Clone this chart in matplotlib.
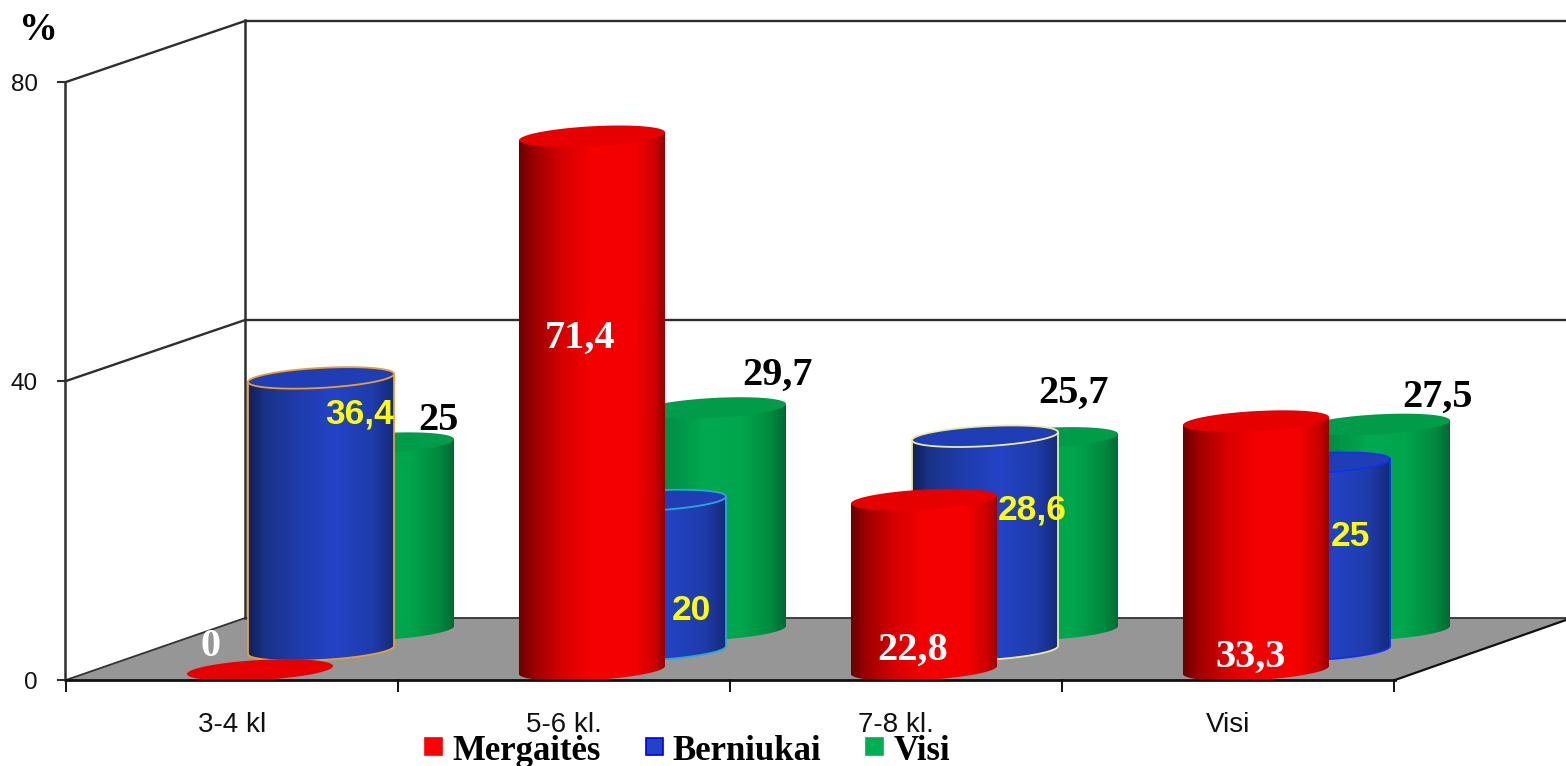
import numpy as np
import matplotlib
matplotlib.use("Agg")
import matplotlib.pyplot as plt
from matplotlib.colors import LinearSegmentedColormap
from matplotlib.patches import PathPatch, Polygon
from matplotlib.path import Path

categories = ["3-4 kl", "5-6 kl.", "7-8 kl.", "Visi"]
series_names = ["Mergaitės", "Berniukai", "Visi"]
mergaites = [0, 71.4, 22.8, 33.3]
berniukai = [36.4, 20, 28.6, 25]
visi = [25, 29.7, 25.7, 27.5]
value_ticks = [0, 40, 80]
mergaites_labels = ["0", "71,4", "22,8", "33,3"]
berniukai_labels = ["36,4", "20", "28,6", "25"]
visi_labels = ["25", "29,7", "25,7", "27,5"]

W, H = 1566, 766
PX_Y = 7.475          # pixels per value unit
PX_X = 332.0          # pixels per category
Y0 = 680.0            # pixel row of value 0 on the front plane
X0 = 232.0            # pixel column of the first category centre


def px(x):  # pixel column -> data x
    return (x - X0) / PX_X


def py(y):  # pixel row -> data y
    return (Y0 - y) / PX_Y


fig = plt.figure(figsize=(W / 100, H / 100), dpi=100, facecolor="white")
ax = fig.add_axes([0, 0, 1, 1])
ax.axis("off")

sx = 1 / PX_X
sy = 1 / PX_Y

# floor and walls
ax.add_patch(Polygon([(px(66), py(680)), (px(245), py(618)), (px(1566), py(618)),
                      (px(1566), py(620)), (px(1395), py(680))],
                     closed=True, fc="#969696", ec="none", zorder=1))
lc = "#2e2e2e"
for v in value_ticks[1:]:
    dy = Y0 - v * PX_Y
    ax.plot([px(66), px(245), px(1566)], [py(dy), py(dy - 61), py(dy - 61)],
            color=lc, lw=1.7, zorder=1.5)
    ax.plot([px(58), px(66)], [py(dy), py(dy)], color=lc, lw=1.5, zorder=1.5)
ax.plot([px(66), px(245), px(1566)], [py(680), py(618), py(618)], color="#333333", lw=1.3, zorder=1.2)
ax.plot([px(65), px(65)], [py(82), py(680)], color=lc, lw=1.8, zorder=1.5)
ax.plot([px(245), px(245)], [py(20), py(618)], color=lc, lw=1.8, zorder=1.5)
ax.plot([px(58), px(66)], [py(680), py(680)], color=lc, lw=1.5, zorder=1.5)
ax.plot([px(66), px(1395)], [py(680), py(680)], color="#111111", lw=2.0, zorder=6)
ax.plot([px(1395), px(1566)], [py(680), py(620)], color="#111111", lw=1.6, zorder=1.5)
for i in range(len(categories) + 1):
    xt = i - 0.5
    ax.plot([xt, xt], [py(680), py(691)], color="#111111", lw=1.4, zorder=1.5)

for v in value_ticks:
    ax.text(px(38), v - 3 * sy, str(v), ha="right", va="center", fontsize=17.5,
            family="Liberation Sans", color="#111111")
ax.text(px(38), py(30), "%", ha="center", va="center", fontsize=28,
        family="Liberation Serif", weight="bold", color="black")
for i, c in enumerate(categories):
    ax.text(i, py(725), c, ha="center", va="center", fontsize=20,
            family="Liberation Sans", color="#111111")

cmaps = {
    "red": LinearSegmentedColormap.from_list("r", [(0, "#6a0000"), (0.1, "#9c0000"),
            (0.3, "#d80000"), (0.5, "#f60000"), (0.8, "#f40000"), (0.93, "#cc0000"), (1, "#980000")]),
    "blue": LinearSegmentedColormap.from_list("b", [(0, "#10205c"), (0.12, "#1a3288"),
            (0.35, "#1f3cac"), (0.6, "#2343c6"), (0.85, "#1f3cac"), (1, "#142a78")]),
    "green": LinearSegmentedColormap.from_list("g", [(0, "#006a33"), (0.15, "#008a44"),
            (0.45, "#00aa50"), (0.7, "#00a54c"), (0.9, "#008a40"), (1, "#006a32")]),
}
top_cols = {"red": "#e60000", "blue": "#1f3db4", "green": "#009c4a"}
edges = {"blue": ["#e8a030", "#2aa7d8", "#f0eaa0", "#1030f0"]}

offs = {"red": 28.0, "blue": 89.0, "green": 149.0}
bases = {"red": 670.0, "blue": 650.0, "green": 630.0}
bw = 146.0
RY = 10.0    # vertical radius of an ellipse, pixels
SHEAR = 4.0  # rise of the right edge, pixels
grad = np.linspace(0, 1, 256).reshape(1, -1)
T = np.linspace(0, 2 * np.pi, 121)


def ring(cx, yc, t):
    half = bw / 2 * sx
    return list(zip(cx + half * np.cos(t), yc + (RY * np.sin(t) + SHEAR * np.cos(t)) * sy))


def cylinder(i, val, key, z, edge=None):
    cx = i + offs[key] * sx
    half = bw / 2 * sx
    base = py(bases[key])
    top = base + val
    if val > 0:
        verts = ring(cx, base, np.linspace(np.pi, 2 * np.pi, 60))
        verts += [(cx + half, top + SHEAR * sy), (cx - half, top - SHEAR * sy)]
        path = Path(verts + [verts[0]])
        im = ax.imshow(grad, cmap=cmaps[key], aspect="auto", zorder=z,
                       extent=(cx - half, cx + half, base - 20 * sy, top + 10 * sy),
                       interpolation="bilinear")
        clip = PathPatch(path, transform=ax.transData, fc="none", ec="none")
        ax.add_patch(clip)
        im.set_clip_path(clip)
        if edge:
            ax.add_patch(PathPatch(path, fc="none", ec=edge, lw=1.3, zorder=z + 0.01))
    ax.add_patch(Polygon(ring(cx, top, T), closed=True, fc=top_cols[key],
                         ec=edge if edge else "none", lw=1.3, zorder=z + 0.02))


for i in range(len(categories)):
    z = 2 + i * 0.1
    cylinder(i, visi[i], "green", z)
    cylinder(i, berniukai[i], "blue", z + 0.03, edges["blue"][i])
    cylinder(i, mergaites[i], "red", z + 0.06)

ax.set_xlim(px(0), px(W))
ax.set_ylim(py(H), py(0))

serif = dict(family="Liberation Serif", weight="bold", fontsize=29, ha="center", va="center", zorder=8)
sans = dict(family="Liberation Sans", weight="bold", fontsize=25.5, color="#ffff00", ha="center", va="center", zorder=8)
red_pos = [(211, 647), (580, 338), (913, 650), (1251, 657)]
blue_pos = [(360, 414), (691, 611), (1032, 510), (1350, 537)]
green_pos = [(438, 420), (777, 375), (1073, 393), (1437, 397)]
for i in range(4):
    ax.text(px(red_pos[i][0]), py(red_pos[i][1]), mergaites_labels[i], color="white", **serif)
    ax.text(px(blue_pos[i][0]), py(blue_pos[i][1]), berniukai_labels[i], **sans)
    ax.text(px(green_pos[i][0]), py(green_pos[i][1]), visi_labels[i], color="black", **serif)

# legend
leg_cols = ["#ff0000", "#2244c4", "#00b050"]
leg_edge = ["#ff0000", "#0000f0", "#00b050"]
leg_x = [425, 646, 866]
txt_x = [452, 672, 894]
for j, name in enumerate(series_names):
    ax.add_patch(Polygon([(px(leg_x[j]), py(738)), (px(leg_x[j] + 17), py(738)),
                          (px(leg_x[j] + 17), py(755)), (px(leg_x[j]), py(755))],
                         closed=True, fc=leg_cols[j], ec=leg_edge[j], lw=1.2, zorder=9))
    ax.text(px(txt_x[j]), py(752), name, family="Liberation Serif", weight="bold",
            fontsize=25, ha="left", va="center", color="black", zorder=9)

fig.savefig("out.png", dpi=100)
